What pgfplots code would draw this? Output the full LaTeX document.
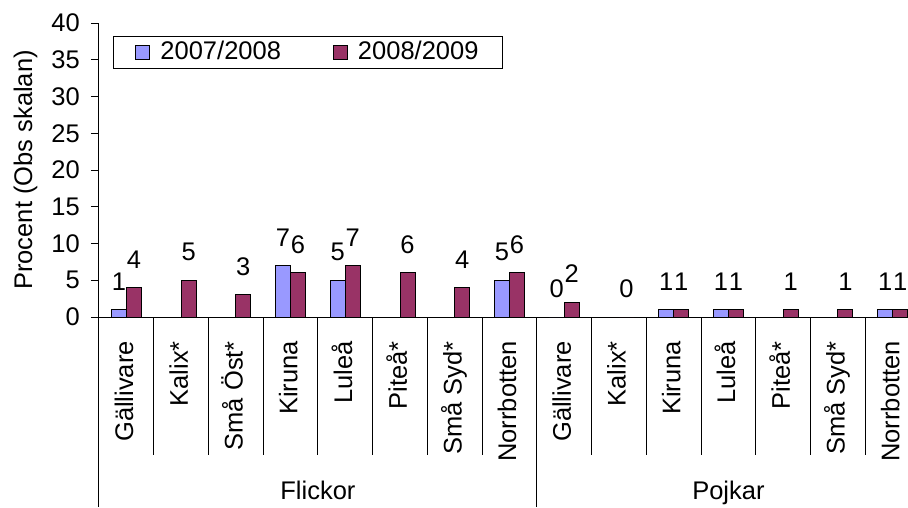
\documentclass[border=0pt]{standalone}
\usepackage{fontspec}
\setmainfont{Liberation Sans}
\usepackage{pgfplots}
\pgfplotsset{compat=1.18}
\definecolor{c1}{HTML}{9999FF}
\definecolor{c2}{HTML}{993366}
\begin{document}
\fontsize{25.5}{30}\selectfont
\begin{tikzpicture}
\begin{axis}[
  scale only axis, width=821pt, height=294pt,
  xmin=-0.5, xmax=14.5, ymin=0, ymax=40,
  axis lines*=left,
  axis line style={black, line width=1pt},
  clip=false,
  ybar=0pt, bar width=15pt,
  ytick={0,5,...,40},
  tick align=outside, major tick length=8pt,
  ytick style={black, line width=1pt},
  yticklabel style={inner sep=0pt},
  yticklabel shift=11pt,
  /pgf/number format/assume math mode=true,
  xtick={0,...,14},
  xticklabels={Gällivare, Kalix*, Små Öst*, Kiruna, Luleå, Piteå*, Små Syd*, Norrbotten, Gällivare, Kalix*, Kiruna, Luleå, Piteå*, Små Syd*, Norrbotten},
  x tick style={draw=none},
  xticklabel style={rotate=90, anchor=mid east, inner sep=0pt},
  xticklabel shift=16pt,
  ylabel={Procent (Obs skalan)},
  ylabel style={at={(axis description cs:-0.0816,0.5)}, anchor=base},
  nodes near coords,
  every node near coord/.append style={anchor=south, inner sep=0pt, yshift=19pt, black},
  legend columns=2,
  legend style={at={(0.017,0.956)}, anchor=north west, draw=black, line width=1pt,
    inner xsep=22pt, inner ysep=3pt,
    /tikz/every odd column/.append style={column sep=8pt},
    /tikz/every even column/.append style={column sep=50pt}},
]
\addplot[fill=c1, draw=black, line width=1pt,
  legend image code/.code={\draw[fill=c1, draw=black, line width=1pt] (0pt,-7pt) rectangle (14pt,7pt);}]
  coordinates {(0,1) (3,7) (4,5) (7,5) (8,0) (10,1) (11,1) (14,1)};
\addplot[fill=c2, draw=black, line width=1pt,
  legend image code/.code={\draw[fill=c2, draw=black, line width=1pt] (0pt,-7pt) rectangle (14pt,7pt);}]
  coordinates {(0,4) (1,5) (2,3) (3,6) (4,7) (5,6) (6,4) (7,6) (8,2) (9,0) (10,1) (11,1) (12,1) (13,1) (14,1)};
\legend{2007/2008, 2008/2009}
\coordinate (O) at (axis cs:-0.5,0);
\pgfplotsinvokeforeach{0.5,1.5,2.5,3.5,4.5,5.5,6.5,8.5,9.5,10.5,11.5,12.5,13.5}{
  \draw[black, line width=1pt] (axis cs:#1,0) -- ++(0pt,-138pt);
}
\pgfplotsinvokeforeach{-0.5,7.5,14.5}{
  \draw[black, line width=1pt] (axis cs:#1,0) -- ++(0pt,-190pt);
}
\node[anchor=base, inner sep=0pt] at ([yshift=-182pt]axis cs:3.5,0) {Flickor};
\node[anchor=base, inner sep=0pt] at ([yshift=-182pt]axis cs:11,0) {Pojkar};
\end{axis}
\pgfresetboundingbox
\path[use as bounding box] ([shift={(-99pt,-190pt)}]O) rectangle ([shift={(809pt,317pt)}]O);
\end{tikzpicture}
\end{document}
